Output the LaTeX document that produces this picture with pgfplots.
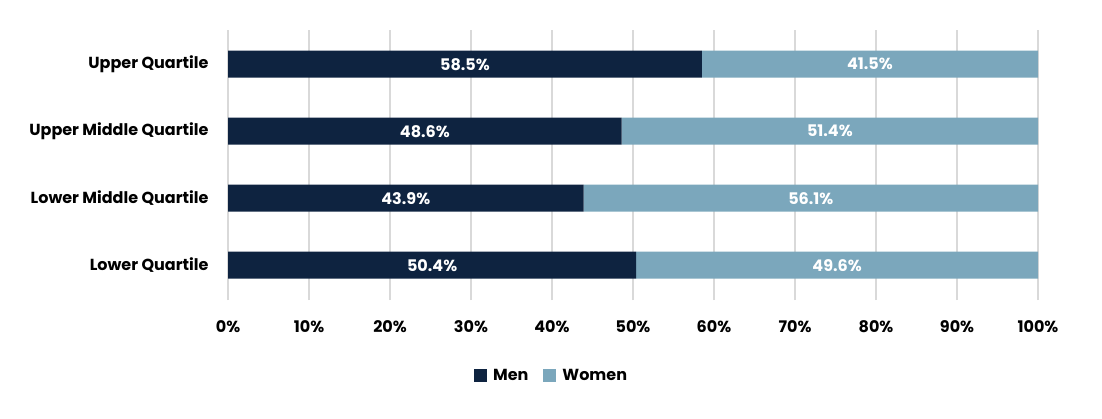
\documentclass[border=0pt]{standalone}
\usepackage{pgfplots}
\usepackage{pgfplotstable}
\pgfplotsset{compat=1.18}
\usepackage{fontspec}
\setmainfont{Poppins}
\definecolor{men}{HTML}{0E2340}
\definecolor{women}{HTML}{7BA7BC}
\definecolor{gridc}{HTML}{D9D9D9}
\newcommand{\lblfont}{\bfseries\fontsize{16}{19}\selectfont}
\tikzset{barlbl/.style={text=white, font=\lblfont}}
\pgfplotstableread{
y men women
0 50.4 49.6
1 43.9 56.1
2 48.6 51.4
3 58.5 41.5
}\datatable
\begin{document}
\begin{tikzpicture}
\path[use as bounding box] (0pt,0pt) rectangle (1102pt,418pt);
\begin{axis}[
  at={(228pt,118pt)}, anchor=south west,
  scale only axis, width=810pt, height=270pt,
  xbar stacked, bar width=27pt,
  xmin=0, xmax=100, ymin=-0.52, ymax=3.51,
  ytick={0,1,2,3},
  yticklabels={Lower Quartile, Lower Middle Quartile, Upper Middle Quartile, Upper Quartile},
  xtick={0,10,20,30,40,50,60,70,80,90,100},
  xticklabels={0\%,10\%,20\%,30\%,40\%,50\%,60\%,70\%,80\%,90\%,100\%},
  axis line style={draw=none},
  major tick length=0pt,
  xmajorgrids,
  grid style={draw=gridc, line width=1.5pt},
  ticklabel style={font=\lblfont, text=black},
  yticklabel style={xshift=-16pt},
  xticklabel style={yshift=-17pt},
  legend style={at={(0.3995,-0.281)}, anchor=center, draw=none, fill=none,
    font=\lblfont,
    /tikz/every even column/.append style={column sep=13pt}},
  legend columns=2,
  legend image code/.code={\fill[#1] (0pt,-6pt) rectangle (13pt,7pt); \path (17pt,0pt);},
  clip=false,
]
\addplot[fill=men, draw=none] table[x=men, y=y] {\datatable};
\addlegendentry{Men}
\addplot[fill=women, draw=none] table[x=women, y=y] {\datatable};
\addlegendentry{Women}
\coordinate (a1) at (axis cs:29.25,3);
\coordinate (a2) at (axis cs:79.25,3);
\coordinate (b1) at (axis cs:24.3,2);
\coordinate (b2) at (axis cs:74.3,2);
\coordinate (c1) at (axis cs:21.95,1);
\coordinate (c2) at (axis cs:71.95,1);
\coordinate (d1) at (axis cs:25.2,0);
\coordinate (d2) at (axis cs:75.2,0);
\end{axis}
\node[barlbl] at (a1) {58.5\%};
\node[barlbl] at (a2) {41.5\%};
\node[barlbl] at (b1) {48.6\%};
\node[barlbl] at (b2) {51.4\%};
\node[barlbl] at (c1) {43.9\%};
\node[barlbl] at (c2) {56.1\%};
\node[barlbl] at (d1) {50.4\%};
\node[barlbl] at (d2) {49.6\%};
\end{tikzpicture}
\end{document}
